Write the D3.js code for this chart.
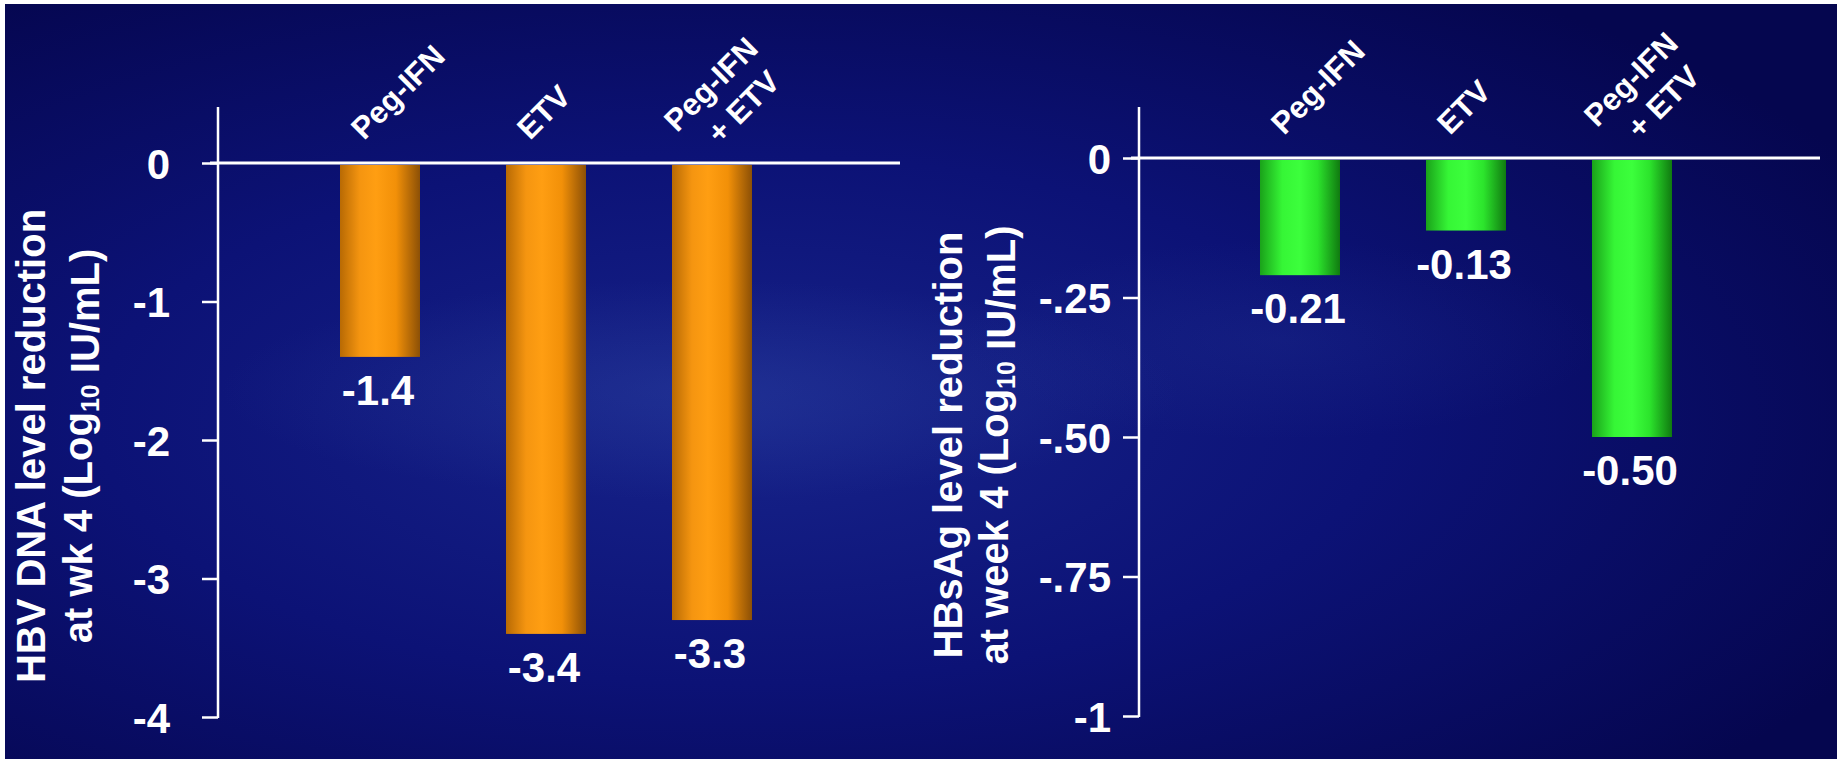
<!DOCTYPE html>
<html>
<head>
<meta charset="utf-8">
<script src="https://cdn.jsdelivr.net/npm/d3@7/dist/d3.min.js"></script>
<style>
  html, body { margin: 0; padding: 0; background: #ffffff; }
  svg { display: block; }
  text { font-family: "Liberation Sans", Arial, Helvetica, sans-serif; font-weight: bold; fill: #ffffff; }
</style>
</head>
<body>
<svg id="chart" width="1837" height="759"></svg>
<script>
// Treatment arms (multi-line labels are split into lines)
const categories = ["Peg-IFN", "ETV", "Peg-IFN + ETV"];
const categoryLines = [["Peg-IFN"], ["ETV"], ["Peg-IFN", "+ ETV"]];

// Week-4 reductions (log10 IU/mL)
const hbvDnaReduction = [-1.4, -3.4, -3.3];
const hbvDnaLabels = ["-1.4", "-3.4", "-3.3"];
const hbsAgReduction = [-0.21, -0.13, -0.50];
const hbsAgLabels = ["-0.21", "-0.13", "-0.50"];

// Axis ticks
const dnaTicks = [0, -1, -2, -3, -4];
const dnaTickLabels = ["0", "-1", "-2", "-3", "-4"];
const hbsTicks = [0, -0.25, -0.5, -0.75, -1];
const hbsTickLabels = ["0", "-.25", "-.50", "-.75", "-1"];

const svg = d3.select("#chart");
const W = 1837, H = 759;
const defs = svg.append("defs");

// Dark blue slide background with a soft lighter haze
const bg = defs.append("radialGradient").attr("id", "bgGrad")
  .attr("cx", "40%").attr("cy", "55%").attr("r", "70%");
bg.append("stop").attr("offset", "0%").attr("stop-color", "#17238a");
bg.append("stop").attr("offset", "50%").attr("stop-color", "#0c1276");
bg.append("stop").attr("offset", "100%").attr("stop-color", "#05064f");

const haze = defs.append("radialGradient").attr("id", "haze")
  .attr("cx", "50%").attr("cy", "50%").attr("r", "50%");
haze.append("stop").attr("offset", "0%").attr("stop-color", "#3550aa").attr("stop-opacity", 0.3);
haze.append("stop").attr("offset", "100%").attr("stop-color", "#3550aa").attr("stop-opacity", 0);

svg.append("rect").attr("x", 5).attr("y", 4).attr("width", W - 5).attr("height", H - 4)
  .attr("fill", "url(#bgGrad)");
svg.append("ellipse").attr("cx", 700).attr("cy", 390).attr("rx", 480).attr("ry", 110)
  .attr("fill", "url(#haze)");
svg.append("ellipse").attr("cx", 1280).attr("cy", 340).attr("rx", 320).attr("ry", 100)
  .attr("fill", "url(#haze)").attr("opacity", 0.5);

// Cylinder-like bar shading
function barGradient(id, stops) {
  const g = defs.append("linearGradient").attr("id", id)
    .attr("x1", "0%").attr("x2", "100%").attr("y1", "0%").attr("y2", "0%");
  stops.forEach(([o, c]) => g.append("stop").attr("offset", o).attr("stop-color", c));
}
barGradient("orangeBar", [["0%", "#b86a04"], ["25%", "#f59510"], ["45%", "#ff9e12"], ["70%", "#f29008"], ["100%", "#8c5006"]]);
barGradient("greenBar", [["0%", "#1aa21a"], ["28%", "#36f636"], ["50%", "#3cff3c"], ["72%", "#2ce42c"], ["100%", "#107a10"]]);

// Line placement (x', y') in the rotated label frame, per number of lines
const labelLayout = {
  1: [[0, 0]],
  2: [[-8, -19], [14, 20]]
};

function drawPanel(cfg) {
  const g = svg.append("g");
  const y = d3.scaleLinear().domain(cfg.domain).range([cfg.y0, cfg.y1]);
  const x = d3.scalePoint().domain(categories).range(cfg.xRange).padding(0.5);
  const barW = 80;

  // Bars
  g.selectAll("rect.bar").data(cfg.values).join("rect")
    .attr("class", "bar")
    .attr("x", (d, i) => x(categories[i]) - barW / 2)
    .attr("y", y(0) + 2)
    .attr("width", barW)
    .attr("height", d => y(d) - y(0) - 2)
    .attr("fill", cfg.fill);

  // Value labels beneath each bar
  g.selectAll("text.val").data(cfg.values).join("text")
    .attr("class", "val")
    .attr("x", (d, i) => x(categories[i]) - 2)
    .attr("y", d => y(d) + 48)
    .attr("text-anchor", "middle")
    .style("font-size", "42px")
    .text((d, i) => cfg.valueLabels[i]);

  // Y axis
  const axis = d3.axisLeft(y)
    .tickValues(cfg.ticks)
    .tickFormat((d, i) => cfg.tickLabels[i])
    .tickSize(16)
    .tickSizeOuter(0)
    .tickPadding(cfg.tickPad);
  const ag = g.append("g").attr("transform", `translate(${cfg.axisX},0)`).call(axis);
  ag.select(".domain").remove();
  ag.selectAll(".tick line").attr("stroke", "#ffffff").attr("stroke-width", 2.5);
  ag.selectAll(".tick text").attr("fill", "#ffffff")
    .style("font-size", "42px").style("font-family", "Liberation Sans, Arial, sans-serif")
    .style("font-weight", "bold").attr("dy", "0.36em");

  g.append("line").attr("x1", cfg.axisX).attr("x2", cfg.axisX)
    .attr("y1", cfg.axisTop).attr("y2", y(cfg.domain[1]) + 1)
    .attr("stroke", "#ffffff").attr("stroke-width", 2.5);
  // Zero baseline
  g.append("line").attr("x1", cfg.axisX - 8).attr("x2", cfg.zeroEnd)
    .attr("y1", y(0)).attr("y2", y(0))
    .attr("stroke", "#ffffff").attr("stroke-width", 3);

  // Rotated category labels
  categoryLines.forEach((lines, i) => {
    const lg = g.append("g")
      .attr("transform", `translate(${x(categories[i]) - 16},${cfg.y0 - 22}) rotate(-45)`);
    const pos = labelLayout[lines.length];
    lines.forEach((s, k) => lg.append("text")
      .style("font-size", "31px")
      .attr("x", pos[k][0])
      .attr("y", pos[k][1])
      .text(s));
  });

  // Y axis title (two lines, rotated)
  const tg = g.append("g").attr("transform", `translate(0,${cfg.titleY})`);
  cfg.title.forEach((line, k) => {
    const t = tg.append("text")
      .attr("transform", `translate(${cfg.titleX[k]},0) rotate(-90)`)
      .attr("text-anchor", "middle")
      .style("font-size", "40px");
    line.forEach(part => {
      if (part.sub) {
        t.append("tspan").attr("dy", "0.28em").style("font-size", "25px").text(part.text);
        t.append("tspan").attr("dy", "-0.45em").text("");
      } else {
        t.append("tspan").text(part.text);
      }
    });
  });
}

drawPanel({
  domain: [0, -4], y0: 163, y1: 717,
  xRange: [297, 795], axisX: 218, axisTop: 107, zeroEnd: 900,
  ticks: dnaTicks, tickLabels: dnaTickLabels, tickPad: 32,
  values: hbvDnaReduction, valueLabels: hbvDnaLabels, fill: "url(#orangeBar)",
  titleX: [45, 92], titleY: 446,
  title: [
    [{ text: "HBV DNA level reduction" }],
    [{ text: "at wk 4 (Log" }, { text: "10", sub: true }, { text: " IU/mL)" }]
  ]
});

drawPanel({
  domain: [0, -1], y0: 158, y1: 716,
  xRange: [1217, 1715], axisX: 1139, axisTop: 107, zeroEnd: 1820,
  ticks: hbsTicks, tickLabels: hbsTickLabels, tickPad: 12,
  values: hbsAgReduction, valueLabels: hbsAgLabels, fill: "url(#greenBar)",
  titleX: [962, 1008], titleY: 445,
  title: [
    [{ text: "HBsAg level reduction" }],
    [{ text: "at week 4 (Log" }, { text: "10", sub: true }, { text: " IU/mL)" }]
  ]
});
</script>
</body>
</html>
